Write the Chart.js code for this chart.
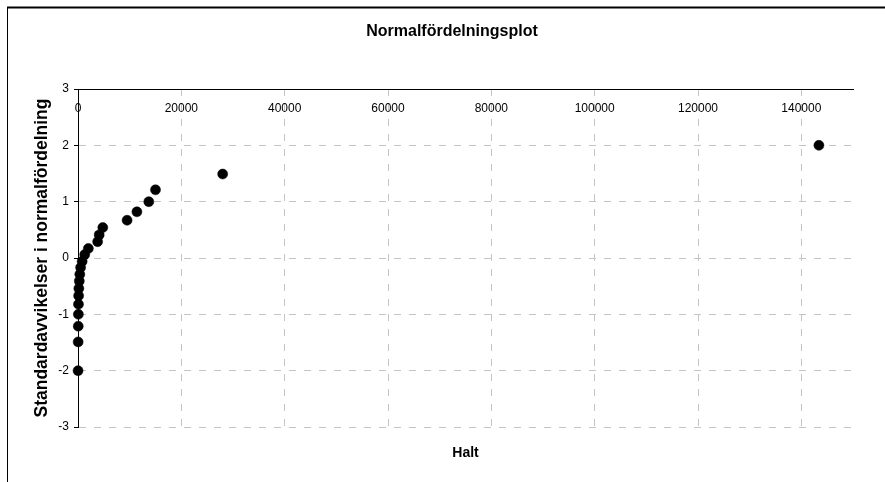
<!DOCTYPE html>
<html>
<head>
<meta charset="utf-8">
<script src="https://cdn.jsdelivr.net/npm/chart.js@4/dist/chart.umd.min.js"></script>
<style>
  html, body { margin: 0; padding: 0; background: #ffffff; }
  canvas { display: block; }
</style>
</head>
<body>
<canvas id="c" width="885" height="482"></canvas>
<script>
// Observed concentrations, sorted ascending
const halt = [10, 30, 50, 70, 90, 120, 160, 250, 350, 500, 800, 1300, 2000, 3800, 4100, 4800, 9500, 11400, 13700, 15000, 28000, 143400];
// Normal quantiles of the plotting positions (i - 0.5) / n
const zScores = [-2.00, -1.49, -1.21, -1.00, -0.82, -0.67, -0.54, -0.41, -0.29, -0.17, -0.06, 0.06, 0.17, 0.29, 0.41, 0.54, 0.67, 0.82, 1.00, 1.21, 1.49, 2.00];

// Axis tick values
const xTickValues = [0, 20000, 40000, 60000, 80000, 100000, 120000, 140000];
const yTickValues = [-3, -2, -1, 0, 1, 2, 3];

const chartTitle = 'Normalfördelningsplot';
const xTitle = 'Halt';
const yTitle = 'Standardavvikelser i normalfördelning';

const xMin = 0, xMax = 150000;
const yMin = -3, yMax = 3;

const FONT = "'Liberation Sans', Arial, sans-serif";
const GRID = '#c4c4c4';
const DASH = [7, 8];

const points = halt.map((v, i) => ({ x: v, y: zScores[i] }));
const useTicks = (values) => (scale) => { scale.ticks = values.map((v) => ({ value: v })); };

// White background, outer frame and the chart heading
const framePlugin = {
  id: 'frame',
  beforeDraw(chart) {
    const ctx = chart.ctx;
    ctx.save();
    ctx.fillStyle = '#ffffff';
    ctx.fillRect(0, 0, chart.width, chart.height);
    ctx.restore();
  },
  afterDraw(chart) {
    const ctx = chart.ctx;
    ctx.save();
    ctx.strokeStyle = '#000000';
    ctx.lineWidth = 2;
    ctx.beginPath();
    ctx.moveTo(7, 7.5);
    ctx.lineTo(chart.width, 7.5);
    ctx.stroke();
    ctx.lineWidth = 1;
    ctx.beginPath();
    ctx.moveTo(7.5, 7);
    ctx.lineTo(7.5, chart.height);
    ctx.stroke();
    ctx.fillStyle = '#000000';
    ctx.font = 'bold 16px ' + FONT;
    ctx.textAlign = 'center';
    ctx.textBaseline = 'middle';
    ctx.fillText(chartTitle, 452, 32);
    ctx.restore();
  }
};

new Chart(document.getElementById('c'), {
  type: 'scatter',
  data: {
    datasets: [{
      data: points,
      xAxisID: 'x',
      yAxisID: 'y',
      backgroundColor: '#000000',
      borderColor: '#000000',
      borderWidth: 0.5,
      pointRadius: 5,
      pointHoverRadius: 5,
      clip: false
    }]
  },
  options: {
    responsive: false,
    animation: false,
    devicePixelRatio: 1,
    layout: { padding: { left: 0, top: 0, right: 32, bottom: 0 } },
    plugins: {
      legend: { display: false },
      title: { display: false },
      tooltip: { enabled: false }
    },
    scales: {
      // bottom axis: carries the vertical grid and the axis title
      x: {
        type: 'linear',
        position: 'bottom',
        min: xMin, max: xMax,
        afterBuildTicks: useTicks(xTickValues),
        ticks: { display: false },
        grid: {
          color: (c) => (c.tick && c.tick.value === xMin ? 'rgba(0,0,0,0)' : GRID),
          lineWidth: 1,
          drawTicks: false
        },
        border: { display: false, dash: DASH },
        title: {
          display: true,
          text: xTitle,
          color: '#000000',
          font: { family: FONT, size: 14, weight: 'bold' },
          padding: { top: 0, bottom: 20.6 }
        },
        afterFit(scale) { scale.height = 55; }
      },
      // top axis: the solid axis line with its labels hanging below it
      xTop: {
        type: 'linear',
        position: 'top',
        min: xMin, max: xMax,
        afterBuildTicks: useTicks(xTickValues),
        ticks: {
          mirror: true,
          padding: 12,
          maxRotation: 0,
          autoSkip: false,
          color: '#000000',
          font: { family: FONT, size: 12 },
          callback: (v) => String(v)
        },
        grid: { display: false, drawTicks: false },
        border: { display: true, color: '#000000', width: 1 },
        afterFit(scale) { scale.height = 89; }
      },
      y: {
        type: 'linear',
        position: 'left',
        min: yMin, max: yMax,
        afterBuildTicks: useTicks(yTickValues),
        ticks: {
          padding: 5,
          color: '#000000',
          font: { family: FONT, size: 12 },
          callback: (v) => String(v)
        },
        grid: {
          color: (c) => (c.tick && c.tick.value === yMax ? 'rgba(0,0,0,0)' : GRID),
          lineWidth: 1,
          drawTicks: true,
          tickLength: 4,
          tickColor: '#000000',
          tickBorderDash: []
        },
        border: { display: true, color: '#000000', width: 1, dash: DASH },
        title: {
          display: true,
          text: yTitle,
          color: '#000000',
          font: { family: FONT, size: 17.5, weight: 'bold' },
          padding: { top: 31.5, bottom: 0 }
        },
        afterFit(scale) { scale.width = 78; }
      }
    }
  },
  plugins: [framePlugin]
});
</script>
</body>
</html>
